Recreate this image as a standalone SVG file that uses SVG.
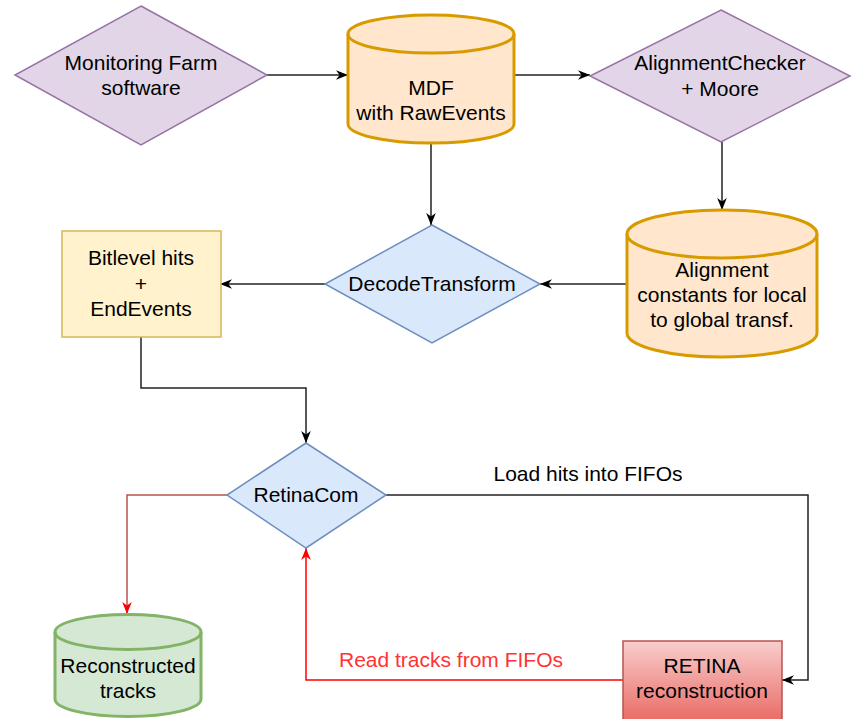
<svg xmlns="http://www.w3.org/2000/svg" width="852" height="719" viewBox="0 0 852 719">
  <style>
    text { font-family: "Liberation Sans", Arial, Helvetica, sans-serif; font-size: 21px; fill: #000; text-anchor: middle; }
    .purple { fill: #e1d5e7; stroke: #9673a6; stroke-width: 1.5; }
    .blue { fill: #dae8fc; stroke: #6c8ebf; stroke-width: 1.5; }
    .orange { fill: #ffe6cc; stroke: #d79b00; stroke-width: 3; }
    .orange-cap { fill: none; stroke: #d79b00; stroke-width: 3; }
    .yellow { fill: #fff2cc; stroke: #d6b656; stroke-width: 1.5; }
    .green { fill: #d5e8d4; stroke: #82b366; stroke-width: 3; }
    .green-cap { fill: none; stroke: #82b366; stroke-width: 3; }
    .red-box { fill: url(#redGrad); stroke: #b85450; stroke-width: 1.5; }
    .edge { fill: none; stroke: #222; stroke-width: 1.5; marker-end: url(#arrowBlack); }
    .edge-dark-red { fill: none; stroke: #b85450; stroke-width: 1.5; marker-end: url(#arrowRed); }
    .edge-red { fill: none; stroke: #ff0000; stroke-width: 1.5; marker-end: url(#arrowRed); }
  </style>
  <defs>
    <linearGradient id="redGrad" x1="0" y1="0" x2="0" y2="1">
      <stop offset="0" stop-color="#f8cecc"/>
      <stop offset="1" stop-color="#ea6b66"/>
    </linearGradient>
    <marker id="arrowBlack" viewBox="0 0 10 10" refX="10" refY="5" markerUnits="userSpaceOnUse" markerWidth="12" markerHeight="12" orient="auto">
      <path d="M0,1 L10,5 L0,9 L3,5 Z" fill="#000"/>
    </marker>
    <marker id="arrowRed" viewBox="0 0 10 10" refX="10" refY="5" markerUnits="userSpaceOnUse" markerWidth="12" markerHeight="12" orient="auto">
      <path d="M0,1 L10,5 L0,9 L3,5 Z" fill="#ff0000"/>
    </marker>
  </defs>

  <rect width="852" height="719" fill="#fff"/>

  <g id="connectors">
    <path class="edge" d="M267,75 H348"/>
    <path class="edge" d="M514,75 H590"/>
    <path class="edge" d="M722,142 V210"/>
    <path class="edge" d="M431,143 V225"/>
    <path class="edge" d="M627,284 H540"/>
    <path class="edge" d="M325,284 H220"/>
    <path class="edge" d="M141,337 V388 H306 V443"/>
    <path class="edge" d="M386,495 H808 V680 H782"/>
    <path class="edge-dark-red" d="M227,495 H127 V614"/>
    <path class="edge-red" d="M623,680 H306 V548"/>
    <text x="588" y="481">Load hits into FIFOs</text>
    <text x="451" y="667" style="fill:#ff3333">Read tracks from FIFOs</text>
  </g>

  <g id="monitoring-farm">
    <polygon class="purple" points="141,6 267,75 141,145 15,75"/>
    <text x="141" y="70">Monitoring Farm</text>
    <text x="141" y="95">software</text>
  </g>

  <g id="mdf">
    <path class="orange" d="M348,34 A83,19 0 0 1 514,34 V124 A83,19 0 0 1 348,124 Z"/>
    <path class="orange-cap" d="M348,34 A83,19 0 0 0 514,34"/>
    <text x="431" y="95">MDF</text>
    <text x="431" y="120">with RawEvents</text>
  </g>

  <g id="alignment-checker">
    <polygon class="purple" points="721,10 850,76 721,142 590,76"/>
    <text x="720" y="70">AlignmentChecker</text>
    <text x="720" y="96">+ Moore</text>
  </g>

  <g id="decode-transform">
    <polygon class="blue" points="432,225 540,284 432,343 325,284"/>
    <text x="432" y="291">DecodeTransform</text>
  </g>

  <g id="alignment-constants">
    <path class="orange" d="M627,234 A95,24 0 0 1 817,234 V333 A95,24 0 0 1 627,333 Z"/>
    <path class="orange-cap" d="M627,234 A95,24 0 0 0 817,234"/>
    <text x="722" y="277">Alignment</text>
    <text x="722" y="302">constants for local</text>
    <text x="722" y="327">to global transf.</text>
  </g>

  <g id="bitlevel-hits">
    <rect class="yellow" x="62" y="231" width="159" height="106"/>
    <text x="141" y="265">Bitlevel hits</text>
    <text x="141" y="291">+</text>
    <text x="141" y="316">EndEvents</text>
  </g>

  <g id="retina-com">
    <polygon class="blue" points="306,443 386,495 306,548 227,495"/>
    <text x="306" y="502">RetinaCom</text>
  </g>

  <g id="reconstructed-tracks">
    <path class="green" d="M55,632 A73,17.5 0 0 1 201,632 V699 A73,17.5 0 0 1 55,699 Z"/>
    <path class="green-cap" d="M55,632 A73,17.5 0 0 0 201,632"/>
    <text x="128" y="673">Reconstructed</text>
    <text x="128" y="698">tracks</text>
  </g>

  <g id="retina-reconstruction">
    <rect class="red-box" x="623" y="641" width="159" height="80"/>
    <text x="702" y="673">RETINA</text>
    <text x="702" y="698">reconstruction</text>
  </g>
</svg>
